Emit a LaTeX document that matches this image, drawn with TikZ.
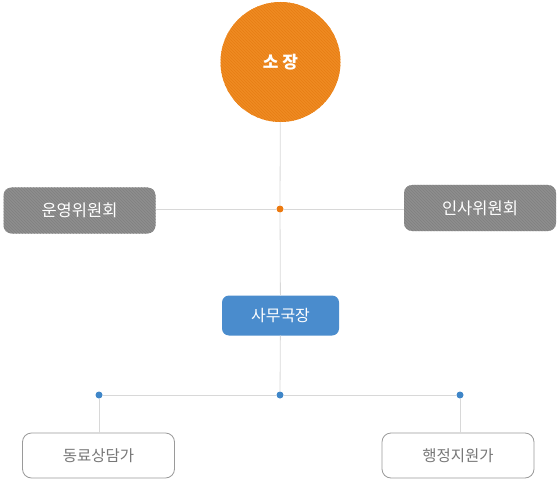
\documentclass[tikz,border=0pt]{standalone}
\usepackage{fontspec}
\setmainfont{Noto Sans CJK KR}
\usetikzlibrary{patterns}
\definecolor{orangeA}{HTML}{EF8B22}
\definecolor{orangeB}{HTML}{E77D14}
\definecolor{orangeDot}{HTML}{EC7A10}
\definecolor{grayA}{HTML}{8E8E8E}
\definecolor{grayB}{HTML}{808080}
\definecolor{blueA}{HTML}{4A8CCD}
\definecolor{blueDot}{HTML}{3F86C8}
\definecolor{lineC}{HTML}{D8D8D8}
\definecolor{frameC}{HTML}{9A9A9A}
\definecolor{textG}{HTML}{777777}
\tikzset{
  conn/.style={draw=lineC, line width=0.8pt},
  bossnode/.style={circle, minimum size=120pt, inner sep=0pt, fill=orangeA,
     postaction={pattern=north west lines, pattern color=orangeB},
     text=white, font=\fontsize{17}{19}\selectfont\bfseries},
  committee/.style={rounded corners=8pt, minimum width=152pt, minimum height=46pt, inner sep=0pt,
     fill=grayA, postaction={pattern=north west lines, pattern color=grayB},
     text=white, font=\fontsize{16.5}{18}\selectfont},
  secnode/.style={rounded corners=7pt, minimum width=117pt, minimum height=40pt, inner sep=0pt,
     fill=blueA, text=white, font=\fontsize{16}{18}\selectfont},
  leaf/.style={rounded corners=9pt, minimum width=152pt, minimum height=45pt, inner sep=0pt,
     draw=frameC, line width=0.8pt, fill=white, text=textG, font=\fontsize{15.5}{17}\selectfont},
  odot/.style={circle, fill=orangeDot, minimum size=7pt, inner sep=0pt},
  bdot/.style={circle, fill=blueDot, minimum size=7pt, inner sep=0pt},
}
\begin{document}
\begin{tikzpicture}[x=1pt,y=-1pt]
\useasboundingbox (0,0) rectangle (559,481);
\node[bossnode] (boss) at (280.5,62) {소 장};
\node[odot] (md) at (280,209) {};
\node[committee] (left) at (79.5,210.5) {운영위원회};
\node[committee] (right) at (480,208) {인사위원회};
\node[secnode] (sec) at (280.5,315.5) {사무국장};
\node[bdot] (bd) at (280,395) {};
\node[bdot] (bl) at (99,395) {};
\node[bdot] (br) at (460,395) {};
\node[leaf] (lleaf) at (98.5,455.5) {동료상담가};
\node[leaf] (rleaf) at (458,455.5) {행정지원가};
\draw[conn] (boss) -- (md);
\draw[conn] (md) -- (sec);
\draw[conn] (sec) -- (bd);
\draw[conn] (left.east |- md) -- (md);
\draw[conn] (md) -- (right.west |- md);
\draw[conn] (bl) -- (bd);
\draw[conn] (bd) -- (br);
\draw[conn] (bl) -- (lleaf.north -| bl);
\draw[conn] (br) -- (rleaf.north -| br);
\end{tikzpicture}
\end{document}
